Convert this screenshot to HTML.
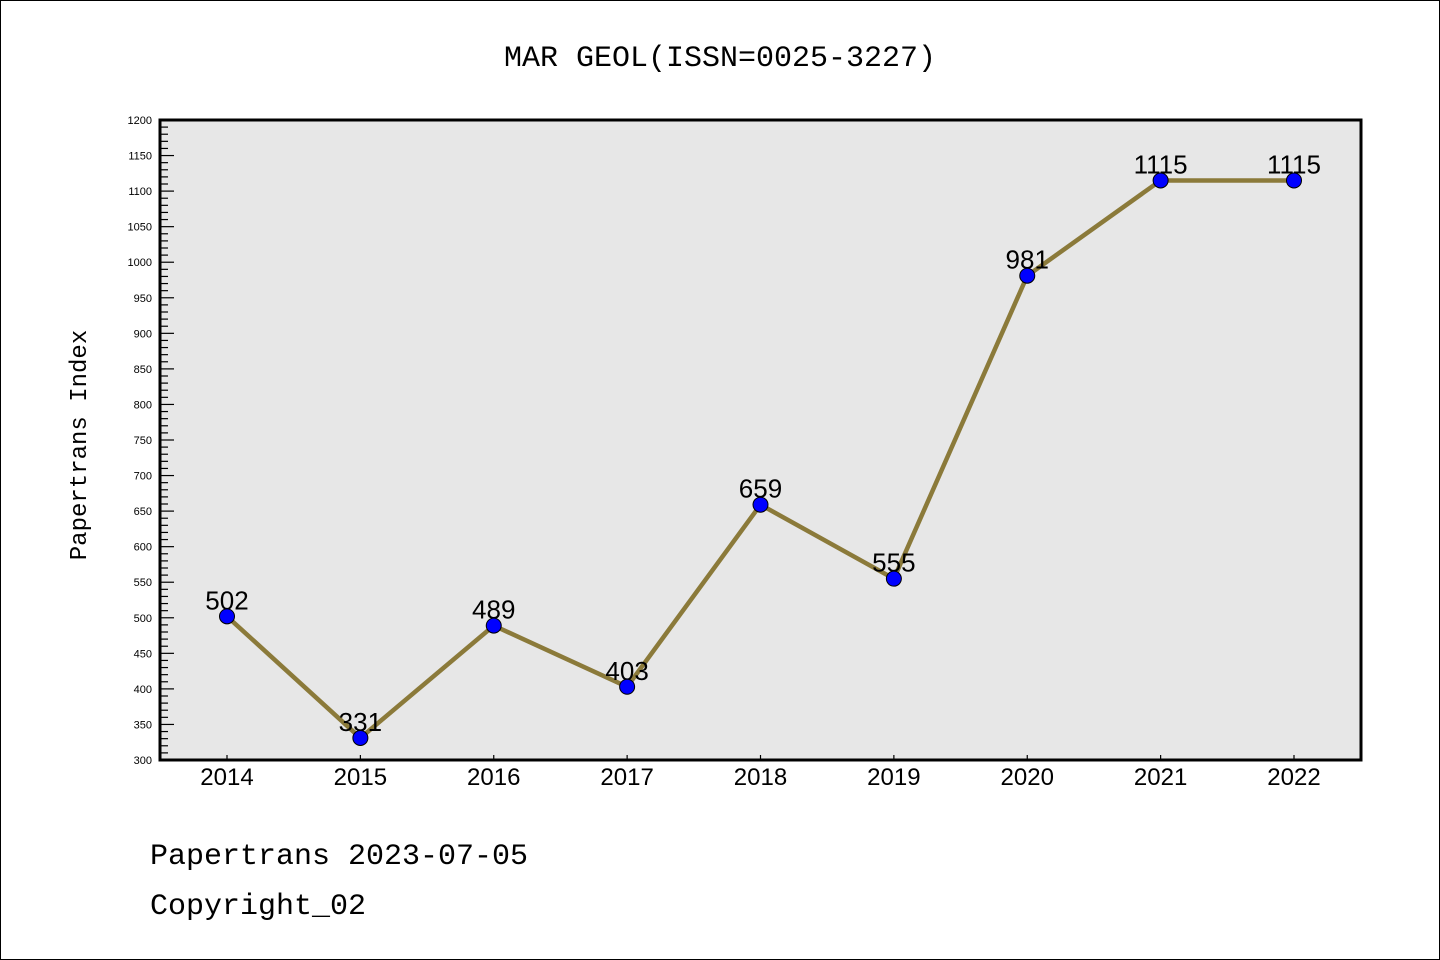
<!DOCTYPE html>
<html><head><meta charset="utf-8"><style>
body{margin:0;background:#fff}
svg{display:block}
text{font-family:"Liberation Sans","DejaVu Sans",sans-serif}
.mono{font-family:"Liberation Mono","DejaVu Sans Mono",monospace}
</style></head><body>
<svg id="chart" width="1440" height="960">
<rect x="0.5" y="0.5" width="1439" height="959" fill="#fff" stroke="#000"/>
<text class="mono" x="720" y="66" font-size="30" text-anchor="middle">MAR GEOL(ISSN=0025-3227)</text>
<rect x="160" y="120" width="1201" height="640" fill="#e7e7e7"/>
<g id="yaxis"></g>
<g id="xaxis"></g>
<g id="series"></g>
<rect x="160" y="120" width="1201" height="640" fill="none" stroke="#000" stroke-width="3"/>
<text class="mono" x="86" y="445" font-size="24" text-anchor="middle" transform="rotate(-90 86 445)">Papertrans Index</text>
<text class="mono" x="150" y="864" font-size="30">Papertrans 2023-07-05</text>
<text class="mono" x="150" y="914" font-size="30">Copyright_02</text>
</svg>
<script>
const categories=["2014","2015","2016","2017","2018","2019","2020","2021","2022"];
const values=[502,331,489,403,659,555,981,1115,1115];
const yTicks=[300,350,400,450,500,550,600,650,700,750,800,850,900,950,1000,1050,1100,1150,1200];
const NS="http://www.w3.org/2000/svg";
const yMin=300,yMax=1200,plotTop=120,plotBot=760,plotLeft=160;
function yScale(v){return plotBot-(v-yMin)/(yMax-yMin)*(plotBot-plotTop);}
function xScale(i){return 227+i*(1294-227)/(categories.length-1);}
function mk(tag,attrs,parent){const e=document.createElementNS(NS,tag);for(const k in attrs)e.setAttribute(k,attrs[k]);parent.appendChild(e);return e;}
const ya=document.getElementById('yaxis'),xa=document.getElementById('xaxis'),sr=document.getElementById('series');
for(let v=yMin;v<=yMax;v+=10){
  const major=(v%50===0);
  const t=mk('line',{x1:plotLeft,x2:plotLeft+(major?14:8),y1:yScale(v),y2:yScale(v),stroke:'#000','stroke-width':1.2},ya);
  
  
}
yTicks.forEach(v=>{
  const t=mk('text',{x:152,y:yScale(v)+4,'font-size':11,'text-anchor':'end'},ya);
  t.textContent=v;
  
  
});
categories.forEach((c,i)=>{
  const t=mk('line',{x1:xScale(i),x2:xScale(i),y1:plotBot,y2:plotBot-5,stroke:'#000','stroke-width':1.2},xa);
  
  
  const l=mk('text',{x:xScale(i),y:plotBot+25,'font-size':24,'text-anchor':'middle'},xa);
  l.textContent=c;
  
  
});
const line=mk('polyline',{points:values.map((v,i)=>xScale(i)+','+yScale(v)).join(' '),fill:'none',stroke:'#8b7a3a','stroke-width':4.5,'stroke-linejoin':'miter'},sr);


values.forEach((v,i)=>{
  const l=mk('text',{x:xScale(i),y:yScale(v)-7,'font-size':26,'text-anchor':'middle'},sr);
  l.textContent=v;
  
  
});
values.forEach((v,i)=>{
  const c=mk('circle',{cx:xScale(i),cy:yScale(v),r:7.5,fill:'#0000ff',stroke:'#000','stroke-width':1},sr);
  
  
});
</script>
</body></html>
